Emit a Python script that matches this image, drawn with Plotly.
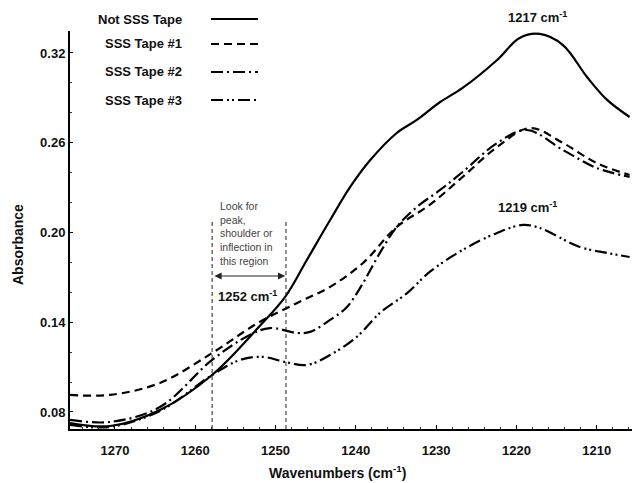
import plotly.graph_objects as go

# ---- data ----
wn_not = [1275.6, 1270.6, 1264.4, 1257.9, 1252.2, 1248.8, 1246.1, 1243.2, 1240.7, 1238.2,
          1234.9, 1232.4, 1229.5, 1226.7, 1222.4, 1219.6, 1217.1, 1214.2, 1211.2, 1208.7, 1205.9]
abs_not = [0.0726, 0.0706, 0.0813, 0.1047, 0.1361, 0.1569, 0.1816, 0.2083, 0.2304, 0.2484,
           0.2665, 0.2752, 0.2872, 0.2966, 0.3153, 0.3300, 0.3327, 0.3253, 0.3039, 0.2886, 0.2772]

wn_t1 = [1275.6, 1270.6, 1264.4, 1257.9, 1252.2, 1247.3, 1243.2, 1239.1, 1234.9, 1230.8,
         1226.7, 1222.4, 1218.3, 1214.2, 1210.0, 1205.9]
abs_t1 = [0.0914, 0.0914, 0.0994, 0.1194, 0.1395, 0.1529, 0.1636, 0.1796, 0.2037, 0.2184,
          0.2371, 0.2571, 0.2698, 0.2598, 0.2464, 0.2384]

wn_t2 = [1275.6, 1270.6, 1264.4, 1257.9, 1253.2, 1250.7, 1247.3, 1245.7, 1243.2, 1241.1,
         1239.1, 1237.0, 1234.9, 1232.4, 1229.5, 1226.7, 1222.4, 1218.7, 1214.2, 1210.0, 1205.9]
abs_t2 = [0.0747, 0.0733, 0.0833, 0.1148, 0.1315, 0.1361, 0.1328, 0.1335, 0.1415, 0.1502,
          0.1662, 0.1863, 0.2037, 0.2170, 0.2284, 0.2404, 0.2598, 0.2685, 0.2551, 0.2431, 0.2371]

wn_t3 = [1275.6, 1270.6, 1264.4, 1257.9, 1254.4, 1251.6, 1248.8, 1246.1, 1243.2, 1239.9,
         1237.0, 1233.6, 1230.8, 1226.7, 1222.4, 1219.2, 1217.1, 1212.1, 1208.7, 1205.9]
abs_t3 = [0.0713, 0.0700, 0.0807, 0.1047, 0.1148, 0.1168, 0.1134, 0.1114, 0.1181, 0.1301,
          0.1462, 0.1595, 0.1736, 0.1883, 0.1997, 0.2050, 0.2030, 0.1903, 0.1863, 0.1836]

series_names = ["Not SSS Tape", "SSS Tape #1", "SSS Tape #2", "SSS Tape #3"]
x_ticks = [1270, 1260, 1250, 1240, 1230, 1220, 1210]
y_ticks = [0.08, 0.14, 0.20, 0.26, 0.32]
y_tick_labels = ["0.08", "0.14", "0.20", "0.26", "0.32"]

# ---- geometry ----
W, H = 632, 483
L, R, T, B = 70, 0, 31, 54
X0, X1 = 1275.6, 1205.6
Y0 = 0.0686
Y1 = 0.08 + (412 - T) / 1496.0

pw, ph = W - L - R, H - T - B
def px(x):  # pixel x -> paper
    return (x - L) / pw
def py(y):  # pixel y -> paper
    return (H - B - y) / ph

dashes = ["solid", "8px,5px", "12px,4px,2px,4px", "12px,4px,2px,3px,2px,4px"]
data = [(wn_not, abs_not), (wn_t1, abs_t1), (wn_t2, abs_t2), (wn_t3, abs_t3)]

fig = go.Figure()
for (xs, ys), name, d in zip(data, series_names, dashes):
    fig.add_trace(go.Scatter(x=xs, y=ys, mode="lines", name=name,
                             line=dict(color="black", width=2.2, dash=d, shape="spline", smoothing=1.0),
                             showlegend=False))

FONT = "Liberation Sans, Arial, sans-serif"

def label(xp, yp, text, size=13, color="#111", xanchor="center", yanchor="middle", **kw):
    fig.add_annotation(x=px(xp), y=py(yp), xref="paper", yref="paper", text=text,
                       showarrow=False, xanchor=xanchor, yanchor=yanchor,
                       font=dict(family=FONT, size=size, color=color), **kw)

# manual legend (text to the left of the line sample)
leg_y = [19, 44, 72, 100]
for name, d, yy in zip(series_names, dashes, leg_y):
    label(184, yy, "<b>%s</b>" % name, xanchor="right")
    fig.add_shape(type="line", xref="paper", yref="paper", x0=px(211), x1=px(258),
                  y0=py(yy), y1=py(yy), line=dict(color="black", width=2.2, dash=d))

# vertical region lines
for xv in [1257.9, 1248.7]:
    fig.add_shape(type="line", xref="x", yref="y", x0=xv, x1=xv, y0=Y0, y1=0.2083,
                  line=dict(color="#222", width=1, dash="4px,3px"))

# double arrow
fig.add_annotation(x=1248.8, y=0.1709, ax=1257.8, ay=0.1709, xref="x", yref="y",
                   axref="x", ayref="y", text="", showarrow=True, arrowhead=2,
                   arrowside="end+start", arrowsize=1.2, arrowwidth=1.2, arrowcolor="#222")

label(218, 198, "Look for<br>peak,<br>shoulder or<br>inflection in<br>this region",
      size=10.5, color="#444", xanchor="left", yanchor="top", align="left")

label(247, 296, "<b>1252 cm<sup>-1</sup></b>")
label(537, 17, "<b>1217 cm<sup>-1</sup></b>")
label(527, 207, "<b>1219 cm<sup>-1</sup></b>")

# axis titles
label(337, 472, "<b>Wavenumbers (cm<sup>-1</sup>)</b>", size=14)
label(18, 245, "<b>Absorbance</b>", size=14, textangle=-90)

fig.update_layout(
    width=W, height=H, margin=dict(l=L, r=R, t=T, b=B, pad=0),
    paper_bgcolor="white", plot_bgcolor="white",
    font=dict(family=FONT, color="#111"),
    xaxis=dict(range=[X0, X1], tickvals=x_ticks, showgrid=False, zeroline=False,
               showline=True, linecolor="black", linewidth=2, ticks="inside", ticklen=4,
               tickcolor="black", ticklabelstandoff=8,
               tickfont=dict(family=FONT, size=13, weight="bold"),
               minor=dict(dtick=2, ticks="inside", ticklen=2, tickcolor="#333")),
    yaxis=dict(range=[Y0, Y1], tickvals=y_ticks, ticktext=y_tick_labels, showgrid=False,
               zeroline=False, showline=True, linecolor="black", linewidth=2,
               ticks="inside", ticklen=3, tickcolor="black",
               tickfont=dict(family=FONT, size=13, weight="bold"),
               minor=dict(dtick=0.02, ticks="inside", ticklen=2, tickcolor="#333")),
)

fig.write_html("out.html")
